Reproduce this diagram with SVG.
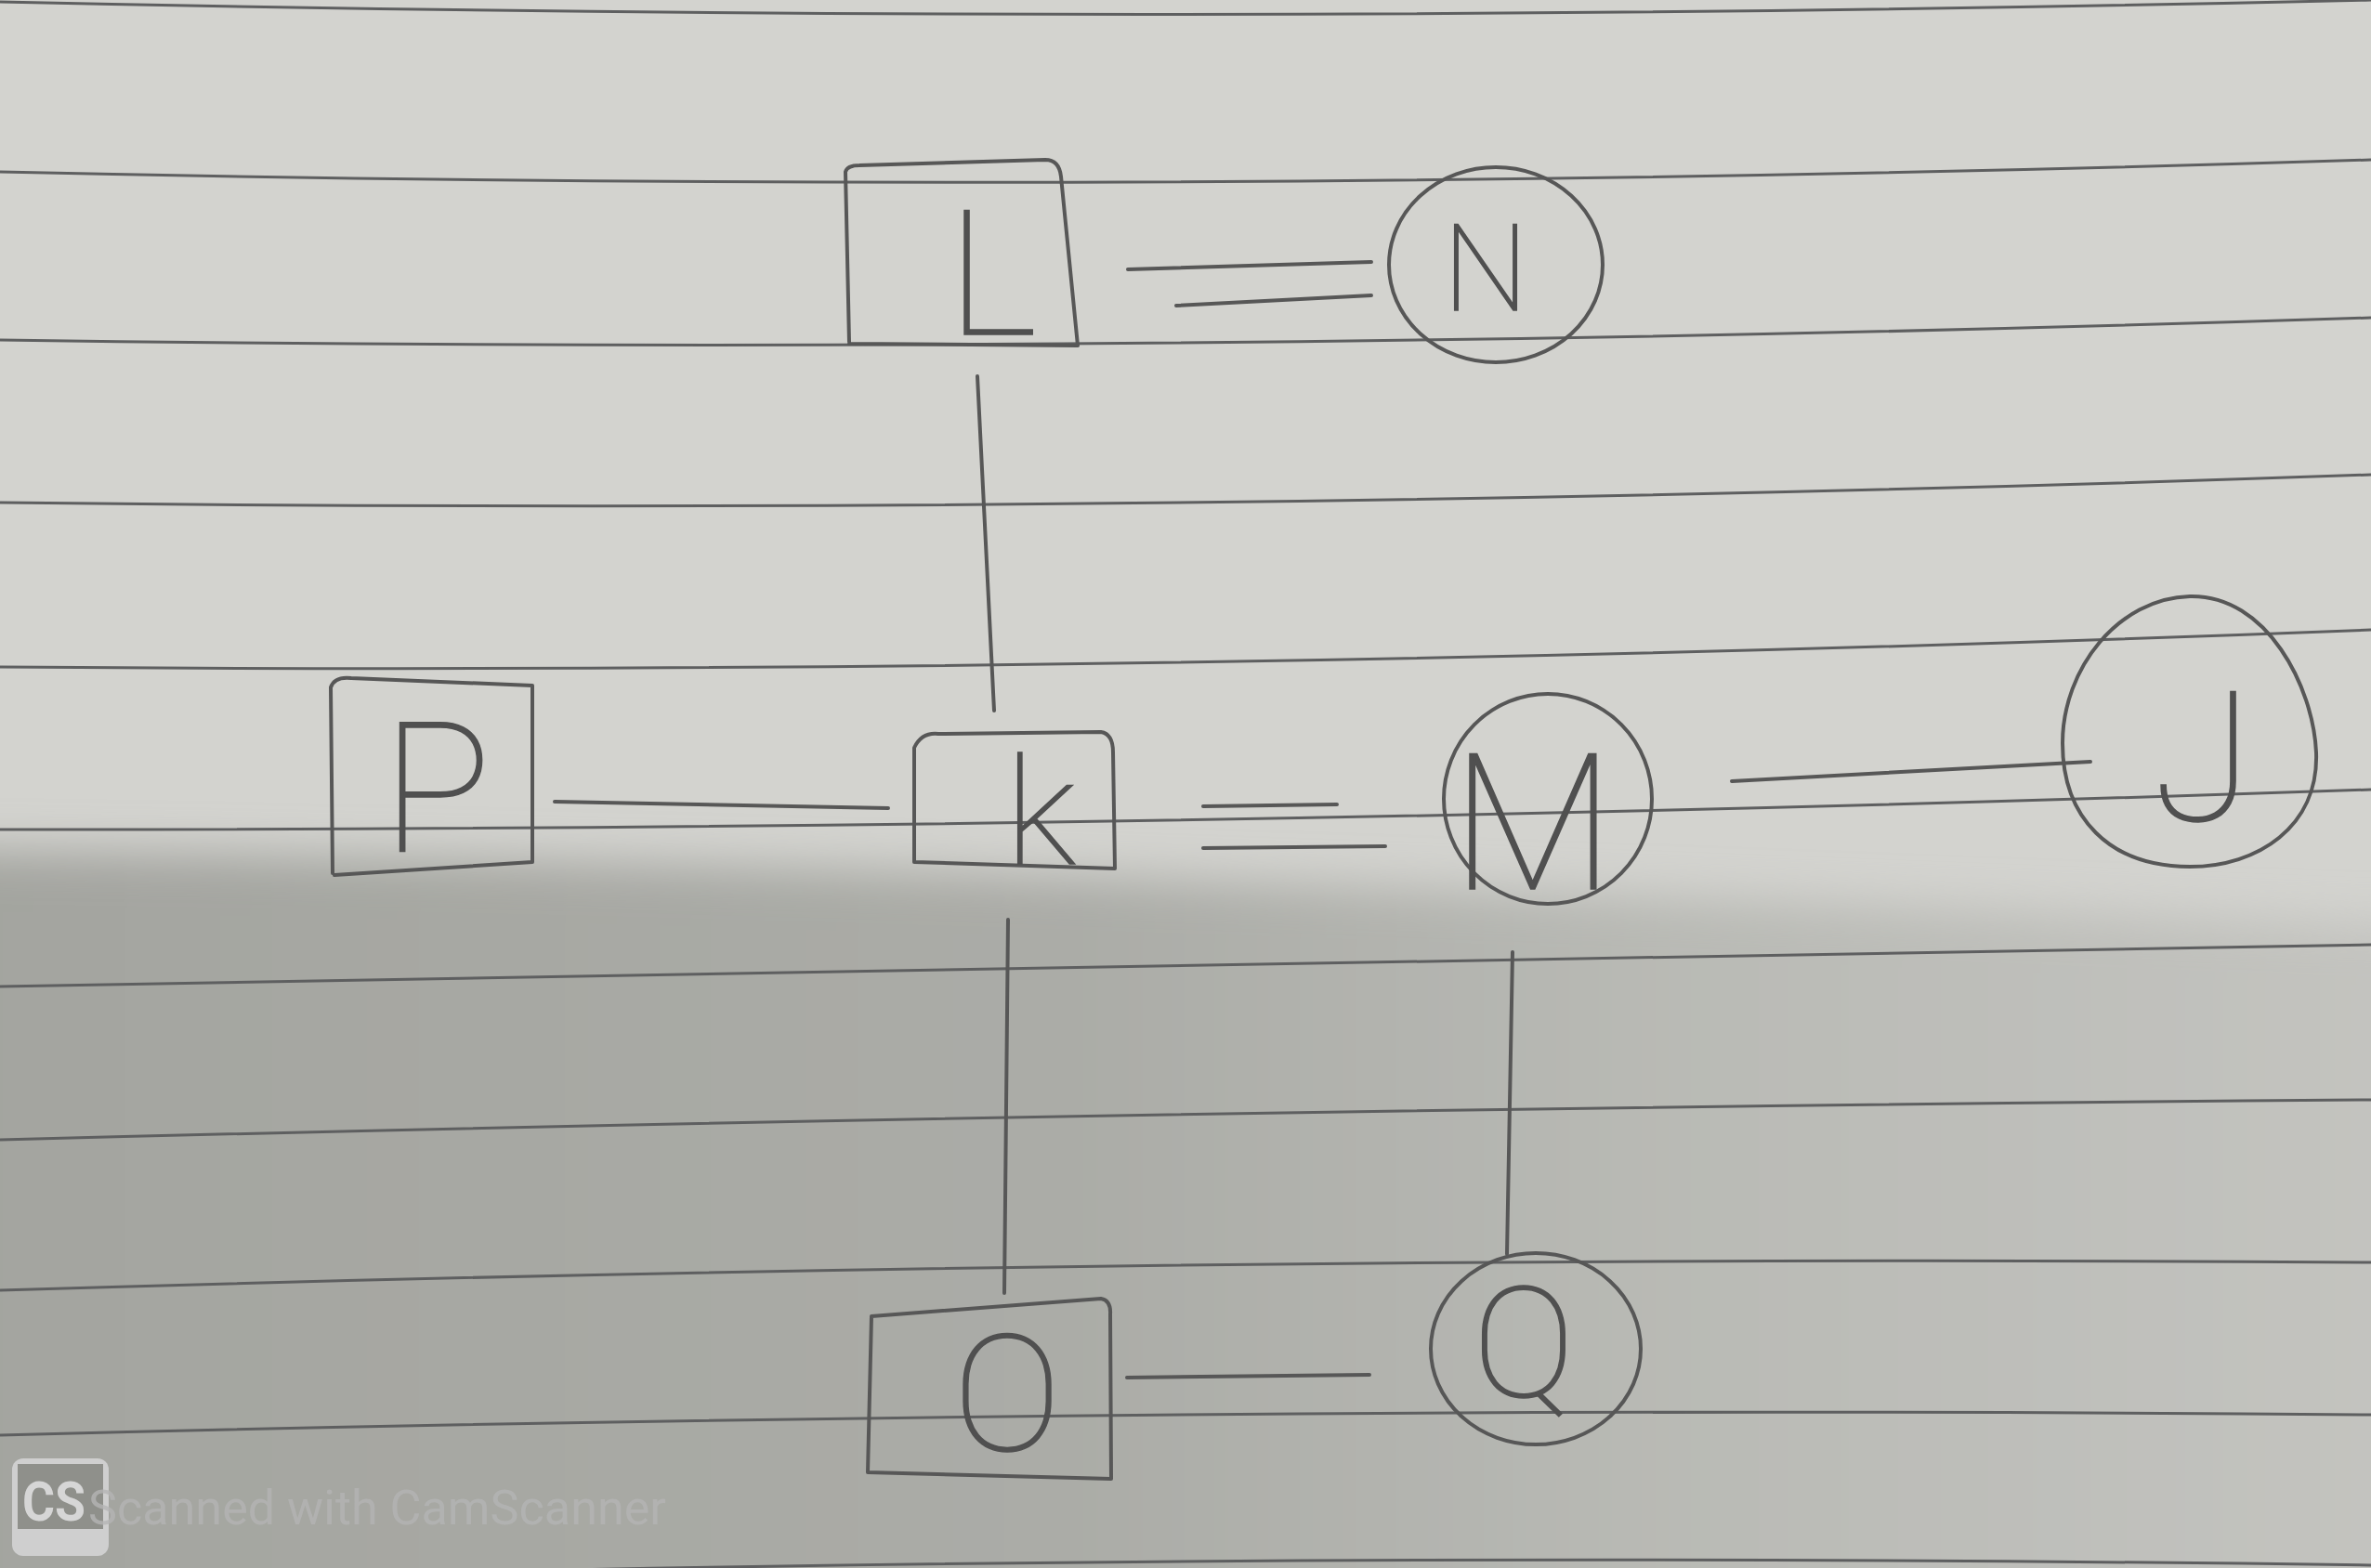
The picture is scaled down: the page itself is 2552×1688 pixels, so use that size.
<svg xmlns="http://www.w3.org/2000/svg" width="2552" height="1688" viewBox="0 0 2552 1688">
<defs>
<style>
.pen{stroke:#575757;stroke-width:4;fill:none;stroke-linecap:round;stroke-linejoin:round}
.rule{stroke:#5e5f60;stroke-width:3;fill:none}
.lbl{font-family:Roboto,Lato,"Liberation Sans",sans-serif;font-weight:100;fill:#505050;text-anchor:middle;stroke:#505050;stroke-width:1.5}
</style>
<filter id="blur" x="-10%" y="-10%" width="120%" height="120%"><feGaussianBlur stdDeviation="24"/></filter>
<linearGradient id="shade" x1="0" y1="0" x2="1" y2="0">
<stop offset="0" stop-color="#a3a49f"/>
<stop offset="0.45" stop-color="#abaca7"/>
<stop offset="0.68" stop-color="#b9bab5"/>
<stop offset="1" stop-color="#c5c5c1"/>
</linearGradient>
</defs>
<g id="paper">
<rect width="2552" height="1688" fill="#d3d3cf"/>
<path d="M-100,915 C800,925 1500,955 2700,1000 L2700,1800 L-100,1800 Z" fill="url(#shade)" filter="url(#blur)"/>
<g id="rules">
<path class="rule" d="M0,2 Q1276,30 2552,0"/>
<path class="rule" d="M0,185 Q1276,213 2552,172"/>
<path class="rule" d="M0,366 Q1276,384 2552,342"/>
<path class="rule" d="M0,541 Q1276,556 2552,511"/>
<path class="rule" d="M0,718 Q1276,728 2552,678"/>
<path class="rule" d="M0,893 Q1276,894 2552,850"/>
<path class="rule" d="M0,1062 Q1276,1044 2552,1017"/>
<path class="rule" d="M0,1227 Q1276,1194 2552,1184"/>
<path class="rule" d="M0,1389 Q1276,1350 2552,1359"/>
<path class="rule" d="M0,1545 Q1276,1512 2552,1523"/>
<path class="rule" d="M0,1705 Q1276,1667 2552,1685"/>
</g>
</g>
<g id="connectors">
<path class="pen" d="M1214,290 L1476,282"/>
<path class="pen" d="M1266,329 L1476,318"/>
<path class="pen" d="M1052,405 L1070,765"/>
<path class="pen" d="M597,863 L956,870"/>
<path class="pen" d="M1295,868 L1439,866"/>
<path class="pen" d="M1295,913 L1491,911"/>
<path class="pen" d="M1864,841 L2250,820"/>
<path class="pen" d="M1085,990 L1081,1392"/>
<path class="pen" d="M1628,1025 L1622,1350"/>
<path class="pen" d="M1213,1483 L1474,1480"/>
</g>
<g id="node-L">
<path class="pen" d="M914,368 L910,185 Q912,178 925,178 L1125,172 Q1140,172 1142,190 L1160,372 L914,370"/>
<text class="lbl" x="1068" y="360" font-size="187">L</text>
</g>
<g id="node-N">
<ellipse class="pen" cx="1610" cy="285" rx="115" ry="105"/>
<text class="lbl" x="1599" y="334" font-size="130">N</text>
</g>
<g id="node-P">
<path class="pen" d="M358,940 L356,740 Q360,728 378,730 L573,738 L573,928 L360,942"/>
<text class="lbl" x="470" y="917" font-size="195">P</text>
</g>
<g id="node-K">
<path class="pen" d="M984,928 L984,805 Q992,788 1010,790 L1185,788 Q1198,790 1198,810 L1200,935 L984,928"/>
<text class="lbl" x="1120" y="930" font-size="160">k</text>
</g>
<g id="node-M">
<ellipse class="pen" cx="1666" cy="860" rx="112" ry="113"/>
<text class="lbl" x="1650" y="957" font-size="205">M</text>
</g>
<g id="node-J">
<path class="pen" d="M2357,642 C2440,640 2490,740 2493,810 C2496,890 2430,933 2357,933 C2270,933 2220,880 2220,800 C2220,720 2280,644 2357,642 Z"/>
<text class="lbl" x="2371" y="883" font-size="195">J</text>
</g>
<g id="node-O">
<path class="pen" d="M934,1585 L938,1417 L1185,1398 Q1196,1400 1195,1415 L1196,1592 L934,1585"/>
<text class="lbl" x="1084" y="1561" font-size="175">O</text>
</g>
<g id="node-Q">
<ellipse class="pen" cx="1653" cy="1452" rx="113" ry="103"/>
<text class="lbl" x="1640" y="1503" font-size="165">Q</text>
</g>
<g id="watermark">
<rect x="13" y="1570" width="104" height="105" rx="12" fill="#cfcfcf"/>
<rect x="19" y="1576" width="92" height="70" fill="#8f908b"/>
<text x="24" y="1637" font-family="Roboto,'Liberation Sans',sans-serif" font-weight="700" font-size="60" fill="#d6d6d6" textLength="68" lengthAdjust="spacingAndGlyphs">CS</text>
<text x="95" y="1641" font-family="Roboto,'Liberation Sans',sans-serif" font-size="52" fill="#b4b4b4" fill-opacity="0.8" textLength="622" lengthAdjust="spacingAndGlyphs">Scanned with CamScanner</text>
</g>
</svg>
